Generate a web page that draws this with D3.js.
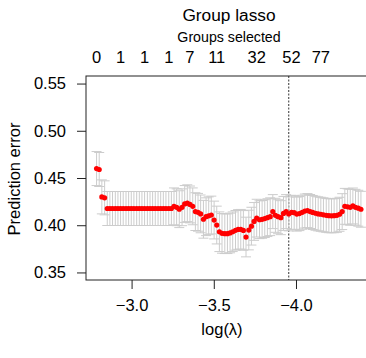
<!DOCTYPE html>
<html>
<head>
<meta charset="utf-8">
<script src="https://cdn.jsdelivr.net/npm/d3@7"></script>
<style>
html,body{margin:0;padding:0;background:#fff;}
svg{display:block;}
text{font-family:"Liberation Sans",Arial,Helvetica,sans-serif;fill:#000;}
</style>
</head>
<body>
<svg id="chart" width="366" height="358"></svg>
<script>
// log(lambda) grid
const logLambda = [
-2.787,-2.803,-2.819,-2.836,-2.852,-2.868,-2.884,-2.901,-2.917,-2.933,
-2.949,-2.966,-2.982,-2.998,-3.014,-3.031,-3.047,-3.063,-3.079,-3.096,
-3.112,-3.128,-3.144,-3.161,-3.177,-3.193,-3.209,-3.226,-3.242,-3.258,
-3.274,-3.290,-3.307,-3.323,-3.339,-3.355,-3.372,-3.388,-3.404,-3.420,
-3.437,-3.453,-3.469,-3.485,-3.502,-3.518,-3.534,-3.550,-3.567,-3.583,
-3.599,-3.615,-3.632,-3.648,-3.664,-3.680,-3.696,-3.713,-3.729,-3.745,
-3.761,-3.778,-3.794,-3.810,-3.826,-3.843,-3.859,-3.875,-3.891,-3.908,
-3.924,-3.940,-3.956,-3.973,-3.989,-4.005,-4.021,-4.038,-4.054,-4.070,
-4.086,-4.102,-4.119,-4.135,-4.151,-4.167,-4.184,-4.200,-4.216,-4.232,
-4.249,-4.265,-4.281,-4.297,-4.314,-4.330,-4.346,-4.362,-4.379,-4.395
];
// cross-validated prediction error
const predError = [
0.460,0.459,0.430,0.429,0.4177,0.4177,0.4177,0.4177,0.4177,0.4177,
0.4177,0.4177,0.4177,0.4177,0.4177,0.4177,0.4177,0.4177,0.4177,0.4177,
0.4177,0.4177,0.4177,0.4177,0.4177,0.4177,0.4177,0.4177,0.4177,0.4200,
0.4190,0.4170,0.4190,0.4225,0.4233,0.4220,0.4200,0.4144,0.4137,0.4120,
0.4063,0.4090,0.4100,0.4108,0.4055,0.4002,0.3931,0.3914,0.3910,0.3910,
0.3918,0.3931,0.3946,0.3955,0.3957,0.3945,0.3875,0.3949,0.3990,0.4040,
0.4075,0.4058,0.4062,0.4070,0.4080,0.4090,0.4144,0.4105,0.4090,0.4080,
0.4125,0.4144,0.4120,0.4137,0.4133,0.4118,0.4123,0.4137,0.4150,0.4155,
0.4145,0.4135,0.4127,0.4120,0.4116,0.4110,0.4105,0.4101,0.4100,0.4101,
0.4105,0.4116,0.4144,0.4200,0.4195,0.4190,0.4204,0.4190,0.4180,0.4169
];
// standard error
const stdError = [
0.018,0.018,0.018,0.018,0.018,0.018,0.018,0.018,0.018,0.018,
0.018,0.018,0.018,0.018,0.018,0.018,0.018,0.018,0.018,0.018,
0.018,0.018,0.018,0.018,0.018,0.018,0.018,0.018,0.018,0.0195,
0.0195,0.0195,0.0195,0.0195,0.0195,0.0195,0.0195,0.020,0.020,0.020,
0.020,0.020,0.020,0.020,0.020,0.020,0.021,0.021,0.021,0.021,
0.021,0.021,0.021,0.021,0.021,0.021,0.021,0.021,0.020,0.020,
0.020,0.020,0.020,0.020,0.020,0.020,0.018,0.018,0.018,0.018,
0.018,0.018,0.018,0.018,0.018,0.018,0.018,0.018,0.018,0.018,
0.018,0.018,0.018,0.018,0.018,0.018,0.018,0.018,0.018,0.018,
0.018,0.018,0.019,0.019,0.019,0.019,0.019,0.019,0.019,0.019
];
const minIndex = 72;
const yTicks = [0.35, 0.40, 0.45, 0.50, 0.55];
const yLim = [0.35, 0.55];
const xTicks = [-3.0, -3.5, -4.0];
const groupLabels = ["0","1","1","1","7","11","32","52","77"];
const groupLabelIndex = [0, 9, 18, 27, 35, 45, 60, 73, 84];
const titleText = "Group lasso";
const subTitleText = "Groups selected";
const xLabel = "log(\u03BB)";
const yLabel = "Prediction error";

const svg = d3.select("#chart");
const box = {left: 86, top: 76, bottom: 280, right: 371.5};

const ext = d3.extent(logLambda);
const xPad = (ext[1] - ext[0]) * 0.04;
const x = d3.scaleLinear()
  .domain([ext[1] + xPad, ext[0] - xPad])
  .range([box.left, box.right]);
const yPad = (yLim[1] - yLim[0]) * 0.04;
const y = d3.scaleLinear()
  .domain([yLim[0] - yPad, yLim[1] + yPad])
  .range([box.bottom, box.top]);

const data = logLambda.map((l, i) => ({l, e: predError[i], s: stdError[i]}));

// vertical dashed line at minimum
svg.append("line")
  .attr("x1", x(logLambda[minIndex])).attr("x2", x(logLambda[minIndex]))
  .attr("y1", box.top).attr("y2", box.bottom)
  .attr("stroke", "#333").attr("stroke-width", 1)
  .attr("stroke-dasharray", "2,1.5");

// error bars
const cap = 5;
const eb = svg.append("g").attr("stroke", "#cccccc").attr("stroke-width", 1).attr("fill", "none");
data.forEach(d => {
  const xx = x(d.l), y0 = y(d.e - d.s), y1 = y(d.e + d.s);
  eb.append("line").attr("x1", xx).attr("x2", xx).attr("y1", y0).attr("y2", y1);
  eb.append("line").attr("x1", xx - cap).attr("x2", xx + cap).attr("y1", y0).attr("y2", y0);
  eb.append("line").attr("x1", xx - cap).attr("x2", xx + cap).attr("y1", y1).attr("y2", y1);
});

// points
svg.append("g").selectAll("circle").data(data).join("circle")
  .attr("cx", d => x(d.l)).attr("cy", d => y(d.e))
  .attr("r", 2.6).attr("fill", "#ff0000");

// box
svg.append("rect")
  .attr("x", box.left).attr("y", box.top)
  .attr("width", box.right - box.left).attr("height", box.bottom - box.top)
  .attr("fill", "none").attr("stroke", "#222").attr("stroke-width", 1);

// y axis
const yAxis = d3.axisLeft(y).tickValues(yTicks).tickSize(9).tickPadding(11)
  .tickFormat(d3.format(".2f"));
const gy = svg.append("g").attr("transform", `translate(${box.left},0)`).call(yAxis);
gy.select(".domain").attr("d", `M${-9},${y(yTicks[0])}H0V${y(yTicks[yTicks.length-1])}H-9`).attr("stroke", "none");
gy.selectAll(".tick line").attr("stroke", "#222");
gy.selectAll(".tick text").attr("font-size", 16.5).attr("font-family", "Liberation Sans, Arial, sans-serif").attr("fill", "#000");

// x axis
const xAxis = d3.axisBottom(x).tickValues(xTicks).tickSize(9).tickPadding(10)
  .tickFormat(d => d3.format(".1f")(d).replace("-", "\u2212"));
const gx = svg.append("g").attr("transform", `translate(0,${box.bottom})`).call(xAxis);
gx.select(".domain").attr("stroke", "none");
gx.selectAll(".tick line").attr("stroke", "#222");
gx.selectAll(".tick text").attr("font-size", 16.5).attr("font-family", "Liberation Sans, Arial, sans-serif").attr("fill", "#000");

// top labels: groups selected
svg.append("g").selectAll("text").data(groupLabelIndex).join("text")
  .attr("x", i => x(logLambda[i])).attr("y", 63.3)
  .attr("text-anchor", "middle").attr("font-size", 16.5)
  .text((i, k) => groupLabels[k]);

svg.append("text").attr("x", 229).attr("y", 21).attr("text-anchor", "middle")
  .attr("font-size", 17.3).text(titleText);
svg.append("text").attr("x", 229).attr("y", 41.5).attr("text-anchor", "middle")
  .attr("font-size", 14.2).text(subTitleText);

svg.append("text").attr("x", 222).attr("y", 335).attr("text-anchor", "middle")
  .attr("font-size", 16.5).text(xLabel);
svg.append("text").attr("transform", "translate(20,179) rotate(-90)")
  .attr("text-anchor", "middle").attr("font-size", 16.5).text(yLabel);
</script>
</body>
</html>
